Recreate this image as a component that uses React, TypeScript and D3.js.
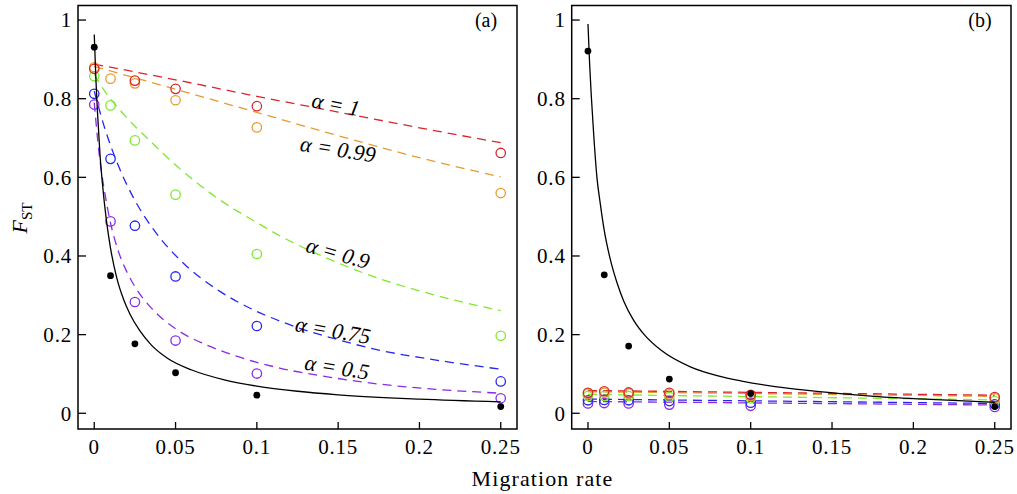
import React from "react";
import * as d3 from "d3";

// ---------- data ----------
const MIG = [0, 0.01, 0.025, 0.05, 0.1, 0.25];
const X_TICKS = [0, 0.05, 0.1, 0.15, 0.2, 0.25];
const X_TICK_LABELS = ["0", "0.05", "0.1", "0.15", "0.2", "0.25"];
const Y_TICKS = [0, 0.2, 0.4, 0.6, 0.8, 1];
const Y_TICK_LABELS = ["0", "0.2", "0.4", "0.6", "0.8", "1"];

const ALPHAS = ["1", "0.99", "0.9", "0.75", "0.5"];
const COLORS = ["#d8262c", "#e89a30", "#80e830", "#2626ee", "#8a2be2"];

// panel (a) simulated points (open circles), order: alpha = 1, 0.99, 0.9, 0.75, 0.5
const A_RED = [0.876, null, 0.846, 0.825, 0.781, 0.662];
const A_ORANGE = [0.880, 0.851, 0.839, 0.796, 0.727, 0.560];
const A_GREEN = [0.857, 0.783, 0.694, 0.556, 0.405, 0.197];
const A_BLUE = [0.8125, 0.647, 0.477, 0.348, 0.222, 0.081];
const A_PURPLE = [0.785, 0.488, 0.283, 0.185, 0.101, 0.038];
const A_BLACK = [0.931, 0.350, 0.1765, 0.103, 0.046, 0.017];

// panel (a) theory curves [m, F]
const A_RED_CURVE = [[0, 0.888], [0.05, 0.848], [0.1, 0.806], [0.15, 0.766], [0.2, 0.726], [0.25, 0.688]];
const A_ORANGE_CURVE = [[0, 0.882], [0.05, 0.824], [0.1, 0.765], [0.15, 0.706], [0.2, 0.65], [0.25, 0.601]];
const A_GREEN_CURVE = [[0, 0.862], [0.0066, 0.818], [0.015, 0.775], [0.025, 0.73], [0.035, 0.69], [0.0435, 0.656], [0.0619, 0.59], [0.08, 0.535], [0.1, 0.485], [0.117, 0.445], [0.14, 0.4], [0.1757, 0.342], [0.21, 0.3], [0.25, 0.261]];
const A_BLUE_CURVE = [[0, 0.819], [0.0066, 0.723], [0.0148, 0.63], [0.024, 0.549], [0.0363, 0.468], [0.0527, 0.39], [0.0773, 0.31], [0.1, 0.259], [0.117, 0.23], [0.15, 0.187], [0.1757, 0.16], [0.2, 0.142], [0.25, 0.112]];
const A_PURPLE_CURVE = [[0, 0.79], [0.003, 0.66], [0.0065, 0.56], [0.0097, 0.49], [0.015, 0.41], [0.02, 0.36], [0.025, 0.322], [0.035, 0.268], [0.05, 0.215], [0.07, 0.172], [0.09, 0.142], [0.114, 0.115], [0.14, 0.095], [0.1757, 0.074], [0.21, 0.061], [0.25, 0.051]];
const A_BLACK_CURVE = [[0, 0.963], [0.001, 0.85], [0.002, 0.764], [0.0035, 0.66], [0.005, 0.585], [0.0075, 0.49], [0.01, 0.42], [0.0138, 0.345], [0.018, 0.29], [0.022, 0.252], [0.028, 0.21], [0.035, 0.174], [0.045, 0.14], [0.06, 0.11], [0.08, 0.085], [0.1, 0.069], [0.125, 0.056], [0.15, 0.047], [0.2, 0.036], [0.25, 0.029]];

// panel (b) simulated points
const B_RED = [0.052, 0.056, 0.053, 0.052, 0.047, 0.041];
const B_ORANGE = [0.050, 0.052, 0.050, 0.048, 0.044, 0.038];
const B_GREEN = [0.044, 0.044, 0.044, 0.042, 0.038, 0.031];
const B_BLUE = [0.033, 0.034, 0.033, 0.031, 0.027, 0.023];
const B_PURPLE = [0.025, 0.026, 0.025, 0.022, 0.019, 0.016];
const B_BLACK = [0.921, 0.352, 0.171, 0.087, 0.050, 0.017];

// panel (b) theory curves
const B_RED_CURVE = [[0, 0.058], [0.25, 0.046]];
const B_ORANGE_CURVE = [[0, 0.055], [0.25, 0.043]];
const B_GREEN_CURVE = [[0, 0.048], [0.25, 0.034]];
const B_BLUE_CURVE = [[0, 0.036], [0.25, 0.025]];
const B_PURPLE_CURVE = [[0, 0.030], [0.25, 0.021]];
const B_BLACK_CURVE = [[0, 0.99], [0.001, 0.89], [0.002, 0.81], [0.0035, 0.71], [0.0055, 0.6], [0.0075, 0.535], [0.01, 0.465], [0.0138, 0.39], [0.018, 0.33], [0.022, 0.285], [0.028, 0.237], [0.035, 0.198], [0.045, 0.16], [0.0629, 0.118], [0.08, 0.095], [0.0945, 0.082], [0.115, 0.068], [0.135, 0.058], [0.155, 0.05], [0.176, 0.043], [0.2175, 0.034], [0.25, 0.028]];

const A_POINTS = [A_RED, A_ORANGE, A_GREEN, A_BLUE, A_PURPLE];
const A_CURVES = [A_RED_CURVE, A_ORANGE_CURVE, A_GREEN_CURVE, A_BLUE_CURVE, A_PURPLE_CURVE];
const B_POINTS = [B_RED, B_ORANGE, B_GREEN, B_BLUE, B_PURPLE];
const B_CURVES = [B_RED_CURVE, B_ORANGE_CURVE, B_GREEN_CURVE, B_BLUE_CURVE, B_PURPLE_CURVE];

// ---------- layout ----------
const W = 1017, H = 494;
const TOP = 5.5, BOTTOM = 429;
const FONT = "'Liberation Serif', 'Times New Roman', serif";

const yScale = d3.scaleLinear().domain([-0.04, 1.037]).range([BOTTOM, TOP]);

const LABELS = [
  { x: 336, y: 104, rot: 11 },
  { x: 338, y: 149, rot: 9 },
  { x: 338, y: 253, rot: 16 },
  { x: 333, y: 330, rot: 10 },
  { x: 337, y: 367, rot: 9 },
];

function Panel({ left, right, points, curves, black, blackCurve, tag, labels }) {
  const x = d3.scaleLinear().domain([-0.01, 0.26]).range([left, right]);
  const line = d3.line().x((d) => x(d[0])).y((d) => yScale(d[1])).curve(d3.curveMonotoneX);
  const drawOrder = [4, 3, 2, 1, 0];
  return (
    <g>
      {drawOrder.map((i) => (
        <path key={"c" + i} d={line(curves[i])} fill="none" stroke={COLORS[i]} strokeWidth={1.3} strokeDasharray="9,6" />
      ))}
      {drawOrder.map((i) =>
        points[i].map((v, j) =>
          v == null ? null : (
            <circle key={"p" + i + "_" + j} cx={x(MIG[j])} cy={yScale(v)} r={4.7} fill="none" stroke={COLORS[i]} strokeWidth={1.3} />
          )
        )
      )}
      <path d={line(blackCurve)} fill="none" stroke="#000" strokeWidth={1.3} />
      {black.map((v, j) => (
        <circle key={"b" + j} cx={x(MIG[j])} cy={yScale(v)} r={3.4} fill="#000" />
      ))}
      <rect x={left} y={TOP} width={right - left} height={BOTTOM - TOP} fill="none" stroke="#000" strokeWidth={1.5} />
      {X_TICKS.map((t, k) => (
        <g key={"xt" + k}>
          <line x1={x(t)} x2={x(t)} y1={BOTTOM} y2={BOTTOM - 7} stroke="#000" strokeWidth={1.3} />
          <text x={x(t)} y={BOTTOM + 25} textAnchor="middle" fontFamily={FONT} fontSize={21} letterSpacing={0.8}>
            {X_TICK_LABELS[k]}
          </text>
        </g>
      ))}
      {Y_TICKS.map((t, k) => (
        <g key={"yt" + k}>
          <line x1={left} x2={left + 8} y1={yScale(t)} y2={yScale(t)} stroke="#000" strokeWidth={1.3} />
          <text x={left - 6} y={yScale(t)} dy="0.35em" textAnchor="end" fontFamily={FONT} fontSize={21} letterSpacing={0.8}>
            {Y_TICK_LABELS[k]}
          </text>
        </g>
      ))}
      <text x={right - 31} y={TOP + 21} textAnchor="middle" fontFamily={FONT} fontSize={20}>
        {tag}
      </text>
      {labels &&
        labels.map((l, i) => (
          <text
            key={"l" + i}
            transform={`translate(${l.x},${l.y}) rotate(${l.rot})`}
            textAnchor="middle"
            dy="0.35em"
            fontFamily={FONT}
            fontStyle="italic"
            fontSize={22}
          >
            {"α = " + ALPHAS[i]}
          </text>
        ))}
    </g>
  );
}

export default function App() {
  return (
    <svg width={W} height={H} style={{ position: "absolute", left: 0, top: 0, background: "#fff" }}>
      <rect x={0} y={0} width={W} height={H} fill="#fff" />
      <Panel left={78} right={517} points={A_POINTS} curves={A_CURVES} black={A_BLACK} blackCurve={A_BLACK_CURVE} tag="(a)" labels={LABELS} />
      <Panel left={571.7} right={1011} points={B_POINTS} curves={B_CURVES} black={B_BLACK} blackCurve={B_BLACK_CURVE} tag="(b)" labels={null} />
      <text x={542.5} y={486} textAnchor="middle" fontFamily={FONT} fontSize={22} letterSpacing={1.1}>
        Migration rate
      </text>
      <text transform="translate(27,218) rotate(-90)" textAnchor="middle" fontFamily={FONT} fontSize={22}>
        <tspan fontStyle="italic">F</tspan>
        <tspan dy={5} fontSize={15}>ST</tspan>
      </text>
    </svg>
  );
}
